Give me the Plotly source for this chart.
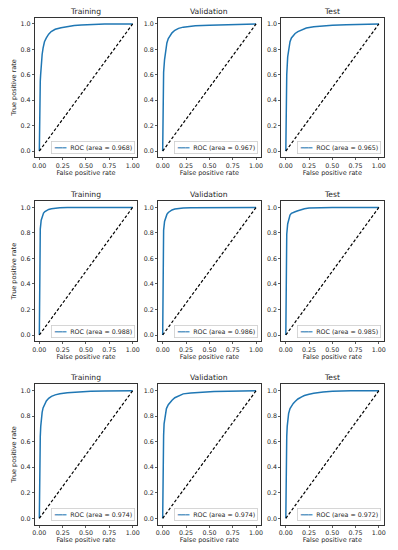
import plotly.graph_objects as go

# ---- data ----
split_titles = ["Training", "Validation", "Test"]
x_tick_vals = [0, 0.25, 0.5, 0.75, 1.0]
x_tick_text = ["0.00", "0.25", "0.50", "0.75", "1.00"]
y_tick_vals = [0, 0.2, 0.4, 0.6, 0.8, 1.0]
y_tick_text = ["0.0", "0.2", "0.4", "0.6", "0.8", "1.0"]
diag_x = [0, 1]
diag_y = [0, 1]

auc_row1 = [0.968, 0.967, 0.965]
auc_row2 = [0.988, 0.986, 0.985]
auc_row3 = [0.974, 0.974, 0.972]

fpr_r1_train = [0, 0.002, 0.005, 0.01, 0.014, 0.02, 0.03, 0.04, 0.055, 0.075, 0.1, 0.127, 0.17, 0.233, 0.3, 0.374, 0.45, 0.57, 0.7, 0.85, 1.0]
tpr_r1_train = [0, 0.25, 0.42, 0.55, 0.60, 0.68, 0.76, 0.81, 0.86, 0.89, 0.92, 0.94, 0.958, 0.97, 0.979, 0.987, 0.992, 0.997, 0.999, 1.0, 1.0]
fpr_r1_val = [0, 0.002, 0.005, 0.01, 0.02, 0.03, 0.045, 0.06, 0.08, 0.1, 0.13, 0.17, 0.22, 0.28, 0.35, 0.5, 0.65, 0.8, 0.9, 1.0]
tpr_r1_val = [0, 0.3, 0.5, 0.62, 0.72, 0.79, 0.85, 0.885, 0.91, 0.93, 0.95, 0.965, 0.975, 0.981, 0.985, 0.99, 0.993, 0.996, 0.999, 1.0]
fpr_r1_test = [0, 0.002, 0.005, 0.01, 0.02, 0.03, 0.045, 0.06, 0.075, 0.1, 0.13, 0.17, 0.22, 0.3, 0.4, 0.5, 0.65, 0.8, 0.92, 1.0]
tpr_r1_test = [0, 0.25, 0.45, 0.6, 0.74, 0.81, 0.86, 0.89, 0.905, 0.925, 0.94, 0.955, 0.968, 0.978, 0.985, 0.989, 0.993, 0.996, 0.999, 1.0]

fpr_r2_train = [0, 0.001, 0.003, 0.006, 0.01, 0.02, 0.03, 0.045, 0.06, 0.08, 0.1, 0.13, 0.17, 0.22, 0.3, 0.5, 0.7, 1.0]
tpr_r2_train = [0, 0.35, 0.6, 0.75, 0.83, 0.9, 0.93, 0.955, 0.968, 0.978, 0.984, 0.99, 0.994, 0.997, 0.999, 1.0, 1.0, 1.0]
fpr_r2_val = [0, 0.001, 0.003, 0.006, 0.01, 0.02, 0.03, 0.045, 0.06, 0.08, 0.1, 0.13, 0.17, 0.22, 0.3, 0.5, 0.7, 1.0]
tpr_r2_val = [0, 0.3, 0.55, 0.72, 0.82, 0.89, 0.92, 0.945, 0.96, 0.972, 0.98, 0.987, 0.992, 0.995, 0.998, 0.999, 1.0, 1.0]
fpr_r2_test = [0, 0.001, 0.003, 0.006, 0.01, 0.02, 0.03, 0.045, 0.06, 0.08, 0.1, 0.13, 0.16, 0.2, 0.25, 0.35, 0.5, 1.0]
tpr_r2_test = [0, 0.3, 0.55, 0.7, 0.79, 0.87, 0.91, 0.94, 0.953, 0.961, 0.966, 0.974, 0.983, 0.99, 0.995, 0.999, 1.0, 1.0]

fpr_r3_train = [0, 0.002, 0.005, 0.01, 0.015, 0.02, 0.03, 0.04, 0.055, 0.075, 0.1, 0.13, 0.17, 0.22, 0.3, 0.4, 0.55, 0.7, 0.85, 1.0]
tpr_r3_train = [0, 0.3, 0.5, 0.64, 0.72, 0.77, 0.83, 0.865, 0.895, 0.92, 0.94, 0.955, 0.967, 0.976, 0.984, 0.99, 0.995, 0.998, 0.999, 1.0]
fpr_r3_val = [0, 0.002, 0.005, 0.01, 0.015, 0.025, 0.04, 0.06, 0.08, 0.1, 0.13, 0.17, 0.22, 0.3, 0.4, 0.55, 0.7, 0.85, 1.0]
tpr_r3_val = [0, 0.3, 0.5, 0.65, 0.74, 0.81, 0.86, 0.89, 0.91, 0.925, 0.945, 0.958, 0.975, 0.982, 0.988, 0.993, 0.996, 0.999, 1.0]
fpr_r3_test = [0, 0.002, 0.005, 0.01, 0.015, 0.02, 0.03, 0.045, 0.06, 0.08, 0.1, 0.13, 0.17, 0.2, 0.25, 0.3, 0.4, 0.5, 0.7, 1.0]
tpr_r3_test = [0, 0.3, 0.5, 0.64, 0.72, 0.77, 0.82, 0.86, 0.88, 0.9, 0.915, 0.935, 0.952, 0.962, 0.972, 0.98, 0.99, 0.995, 0.999, 1.0]

curves = [
    [(fpr_r1_train, tpr_r1_train), (fpr_r1_val, tpr_r1_val), (fpr_r1_test, tpr_r1_test)],
    [(fpr_r2_train, tpr_r2_train), (fpr_r2_val, tpr_r2_val), (fpr_r2_test, tpr_r2_test)],
    [(fpr_r3_train, tpr_r3_train), (fpr_r3_val, tpr_r3_val), (fpr_r3_test, tpr_r3_test)],
]
aucs = [auc_row1, auc_row2, auc_row3]

# ---- layout geometry (paper fractions) ----
W, H = 398, 550
col_px = [(33, 136.7), (157.6, 261.4), (282, 385.4)]
row_px = [(17.6, 157.4), (201, 341.4), (384.3, 524.7)]

FONT = "DejaVu Sans"
BLUE = "#1f77b4"
TXT = "#262626"

fig = go.Figure()
layout = dict(
    width=W, height=H,
    margin=dict(l=0, r=0, t=0, b=0),
    paper_bgcolor="white", plot_bgcolor="white",
    showlegend=False,
    font=dict(family=FONT, color=TXT),
    annotations=[],
)

for r in range(3):
    for c in range(3):
        k = r * 3 + c + 1
        xa = "x" if k == 1 else f"x{k}"
        ya = "y" if k == 1 else f"y{k}"
        fx, ty = curves[r][c]
        fig.add_trace(go.Scatter(
            x=fx, y=ty, mode="lines", xaxis=xa, yaxis=ya,
            line=dict(color=BLUE, width=1.5), hoverinfo="skip",
        ))
        fig.add_trace(go.Scatter(
            x=diag_x, y=diag_y, mode="lines", xaxis=xa, yaxis=ya,
            line=dict(color="black", width=1.2, dash="3px,2px"), hoverinfo="skip",
        ))
        x0, x1 = col_px[c]
        y0, y1 = row_px[r]
        axis_common = dict(
            range=[-0.05, 1.05], showgrid=False, zeroline=False,
            showline=True, linecolor="#333333", linewidth=1, mirror=True,
            ticks="outside", ticklen=2, tickwidth=0.8, tickcolor="#333333",
            tickfont=dict(family=FONT, size=6.3, color=TXT),
            fixedrange=True,
        )
        xkey = "xaxis" if k == 1 else f"xaxis{k}"
        ykey = "yaxis" if k == 1 else f"yaxis{k}"
        layout[xkey] = dict(
            axis_common, domain=[x0 / W, x1 / W], anchor=ya,
            tickvals=x_tick_vals, ticktext=x_tick_text,
            title=dict(text="False positive rate", font=dict(family=FONT, size=6.5, color=TXT), standoff=2),
        )
        ydict = dict(
            axis_common, domain=[1 - y1 / H, 1 - y0 / H], anchor=xa,
            tickvals=y_tick_vals, ticktext=y_tick_text,
        )
        if c == 0:
            ydict["title"] = dict(text="True positive rate", font=dict(family=FONT, size=6.5, color=TXT), standoff=3)
        layout[ykey] = ydict
        # subplot title
        layout["annotations"].append(dict(
            text=split_titles[c], xref=f"{xa} domain", yref=f"{ya} domain",
            x=0.5, y=1.0, xanchor="center", yanchor="bottom", yshift=0,
            showarrow=False, font=dict(family=FONT, size=7.6, color=TXT),
        ))
        # legend box
        layout["annotations"].append(dict(
            text=f"<span style='color:{BLUE}'>━━━</span>  ROC (area = {aucs[r][c]:.3f})",
            xref=f"{xa} domain", yref=f"{ya} domain",
            x=0.975, y=0.025, xanchor="right", yanchor="bottom",
            showarrow=False, font=dict(family=FONT, size=6.3, color=TXT),
            bgcolor="white", bordercolor="#cccccc", borderwidth=0.8, borderpad=2,
        ))

fig.update_layout(**layout)
fig.write_html(
    "out.html",
    config={"displayModeBar": False, "staticPlot": True},
    post_script="document.body.style.margin='0';document.body.style.padding='0';",
)
